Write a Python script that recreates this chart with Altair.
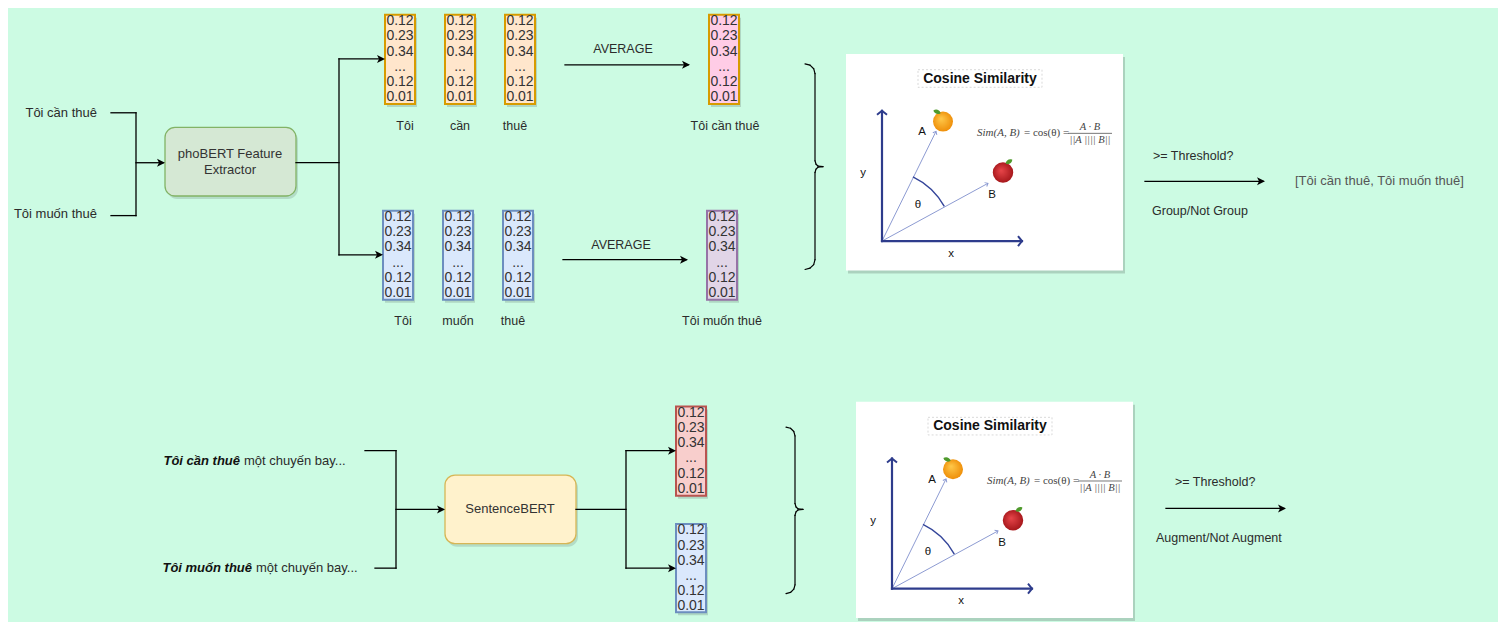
"""Sơ đồ pipeline: phoBERT (trung bình vector token) và SentenceBERT -> cosine similarity.

Vẽ toàn bộ như một chart Altair nhiều lớp trên hai trục ẩn tính theo pixel.
"""

import altair as alt
import pandas as pd

# ---- nội dung: chữ và số ----
VECTOR_VALUES = ["0.12", "0.23", "0.34", "...", "0.12", "0.01"]
SENTENCES = ["Tôi cần thuê", "Tôi muốn thuê"]
TOKENS_TOP = ["Tôi", "cần", "thuê"]
TOKENS_BOTTOM = ["Tôi", "muốn", "thuê"]
SENTENCE_TAIL = "một chuyến bay..."
MODEL_NAMES = [["phoBERT Feature", "Extractor"], ["SentenceBERT"]]
AVERAGE = "AVERAGE"
THRESHOLD = ">= Threshold?"
DECISIONS = ["Group/Not Group", "Augment/Not Augment"]
GROUP_RESULT = "[Tôi cần thuê, Tôi muốn thuê]"
PANEL_TITLE = "Cosine Similarity"
FORMULA_LEFT = "Sim(A, B)"
FORMULA_MID = "= cos(θ) ="
FORMULA_NUM = "A · B"
FORMULA_DEN = "||A |||| B||"

# ---- màu / font ----
BACKGROUND = "#ccfbe3"
FONT = "Liberation Sans"
SERIF = "Liberation Serif"
INK = "#2b2b2b"
AXIS_BLUE = "#2e3c8c"
VEC_BLUE = "#8d9bd2"

W, H = 1490, 614
# y nén nhẹ để các hộp sát mép trên (y=2) không bị lề trang 8px cắt mất
XS = alt.Scale(domain=[8, 8 + W], nice=False, zero=False)
YS = alt.Scale(domain=[-5, 622], nice=False, zero=False, reverse=True)

# ---- bố cục (pixel) ----
# hộp vector: x, x2, y, y2, fill, stroke
VECTOR_BOXES = [
    (385, 415, 2, 93, "#ffe6cc", "#d79b00"),
    (445, 475, 2, 93, "#ffe6cc", "#d79b00"),
    (505, 535, 2, 93, "#ffe6cc", "#d79b00"),
    (383, 413, 202, 293, "#dae8fc", "#6c8ebf"),
    (443, 473, 202, 293, "#dae8fc", "#6c8ebf"),
    (503, 533, 202, 293, "#dae8fc", "#6c8ebf"),
    (709, 739, 2, 93, "#ffcce6", "#d79b00"),
    (707, 737, 202, 293, "#e1d5e7", "#9673a6"),
    (676, 706, 402, 493, "#f8cecc", "#b85450"),
    (676, 706, 522, 612, "#dae8fc", "#6c8ebf"),
]
MODEL_BOXES = [
    (165, 296, 117, 187, "#d5e8d4", "#82b366"),
    (445, 576, 472, 542, "#fff2cc", "#d6b656"),
]
CONNECTORS = [
    [(111, 102), (136, 102), (136, 207), (111, 207)],
    [(136, 153), (163, 153)],
    [(296, 153), (339, 153)],
    [(382, 47), (339, 47), (339, 247), (380, 247)],
    [(565, 53), (688, 53)],
    [(563, 252), (686, 252)],
    [(1145, 172), (1263, 172)],
    [(365, 447), (396, 447), (396, 567), (375, 567)],
    [(396, 507), (443, 507)],
    [(576, 507), (626, 507)],
    [(673, 447), (626, 447), (626, 567), (673, 567)],
    [(1166, 506), (1284, 506)],
]
ARROW_TIPS = [(165, 153), (385, 47), (383, 247), (690, 53), (688, 252),
              (1265, 172), (445, 507), (676, 447), (676, 567), (1286, 506)]
# ngoặc nhọn: x trái, x giữa, x mũi, y trên, y giữa, y dưới
BRACES = [(805, 815, 823, 52, 157, 262), (786, 795, 803, 423, 507, 593)]

PANELS = [(846, 42), (856, 397)]
PANEL_W, PANEL_H = 277, 221
P_ORIGIN, P_YTOP, P_XEND = (36, 191), (36, 58), (176, 191)
P_A, P_B = (90, 79), (142, 132)

ARROW = "M0,0 L-2,-1 L-1.5,0 L-2,1 Z"
CHEVRON = "M-1,-1.25 L0,0 L-1,1.25"
LEAF = "M-1,0 C-0.5,-0.7 0.5,-0.7 1,0 C0.5,0.7 -0.5,0.7 -1,0 Z"


def pos(**extra):
    enc = dict(x=alt.X("x:Q", scale=XS, axis=None), y=alt.Y("y:Q", scale=YS, axis=None))
    enc.update(extra)
    return enc


def box_enc():
    return pos(x2="x2:Q", y2="y2:Q")


def texts(rows, **mark):
    df = pd.DataFrame(rows, columns=["x", "y", "text"])
    style = dict(font=FONT, fontSize=12.5, color=INK, baseline="middle")
    style.update(mark)
    return alt.Chart(df).mark_text(**style).encode(**pos(), text="text:N")


def segments(paths):
    rows = []
    for pts in paths:
        rows += [dict(x=a[0], y=a[1], x2=b[0], y2=b[1]) for a, b in zip(pts, pts[1:])]
    return pd.DataFrame(rows)


def brace_points(xl, xm, xt, yt, ym, yb):
    r = xm - xl
    return [
        (xl, yt), (xl + r * 0.5, yt + r * 0.13), (xl + r * 0.87, yt + r * 0.5), (xm, yt + r),
        (xm, ym - 6), (xm + 1, ym - 2.5), (xm + 3, ym - 0.6), (xt, ym),
        (xm + 3, ym + 0.6), (xm + 1, ym + 2.5), (xm, ym + 6),
        (xm, yb - r), (xl + r * 0.87, yb - r * 0.5), (xl + r * 0.5, yb - r * 0.13), (xl, yb),
    ]


def shift(p, o):
    return (p[0] + o[0], p[1] + o[1])


# ---- bảng dữ liệu ----
vec_df = pd.DataFrame(VECTOR_BOXES, columns=["x", "x2", "y", "y2", "fill", "stroke"])
model_df = pd.DataFrame(MODEL_BOXES, columns=["x", "x2", "y", "y2", "fill", "stroke"])
panel_df = pd.DataFrame([dict(x=px, x2=px + PANEL_W, y=py, y2=py + PANEL_H) for px, py in PANELS])

digit_rows = []
for x0, x1, y0, _, _, _ in VECTOR_BOXES:
    for i, v in enumerate(VECTOR_VALUES):
        digit_rows.append(((x0 + x1) / 2, y0 + 6.5 + i * 15.5, v))

label_rows = [
    (405, 115, TOKENS_TOP[0]), (460, 115, TOKENS_TOP[1]), (515, 115, TOKENS_TOP[2]),
    (403, 315, TOKENS_BOTTOM[0]), (458, 315, TOKENS_BOTTOM[1]), (513, 315, TOKENS_BOTTOM[2]),
    (725, 115, SENTENCES[0]), (722, 315, SENTENCES[1]),
    (623, 37, AVERAGE), (621, 237, AVERAGE),
]
left_rows = [
    (1153, 146, THRESHOLD), (1152, 202, DECISIONS[0]),
    (1175, 479, THRESHOLD), (1156, 536, DECISIONS[1]),
]
right_rows = [(97, 102, SENTENCES[0]), (97, 205, SENTENCES[1])]
bold_rows = [(240, 458, SENTENCES[0]), (252, 567, SENTENCES[1])]
tail_rows = [(240, 458, SENTENCE_TAIL), (252, 567, SENTENCE_TAIL)]
model_rows = [(230, 144, MODEL_NAMES[0][0]), (230, 160, MODEL_NAMES[0][1]),
              (510, 507, MODEL_NAMES[1][0])]

# phần tử bên trong hai khung cosine
axis_paths, vec_paths, chevrons, tips = [], [], [], []
title_rows, small_rows, f_left, f_mid, f_frac = [], [], [], [], []
title_box, frac_rule, arcs, oranges, apples, leaves = [], [], [], [], [], []
for o in PANELS:
    og = shift(P_ORIGIN, o)
    axis_paths += [[shift(P_YTOP, o), og, shift(P_XEND, o)]]
    vec_paths += [[og, shift(P_A, o)], [og, shift(P_B, o)]]
    chevrons += [(*shift(P_YTOP, o), 270), (*shift(P_XEND, o), 0)]
    tips += [(*shift(P_A, o), 296), (*shift(P_B, o), 331)]
    title_rows.append((*shift((134, 25), o), PANEL_TITLE))
    title_box.append(dict(x=o[0] + 72, x2=o[0] + 196, y=o[1] + 16, y2=o[1] + 34))
    small_rows += [(*shift((17, 122), o), "y"), (*shift((105, 204), o), "x"),
                   (*shift((76, 80), o), "A"), (*shift((146, 144), o), "B"),
                   (*shift((72, 154), o), "θ")]
    f_left.append((*shift((131, 81), o), FORMULA_LEFT))
    f_mid.append((*shift((175, 81), o), FORMULA_MID))
    f_frac += [(*shift((244, 75), o), FORMULA_NUM), (*shift((244, 88), o), FORMULA_DEN)]
    frac_rule.append(dict(x=o[0] + 222, x2=o[0] + 266, y=o[1] + 81, y2=o[1] + 81))
    arcs.append(dict(x=og[0], y=og[1]))
    oranges.append(dict(zip("xy", shift((97, 69), o))))
    apples.append(dict(zip("xy", shift((157, 121), o))))
    leaves += [dict(x=o[0] + 91, y=o[1] + 59, angle=20), dict(x=o[0] + 163, y=o[1] + 110, angle=330)]

pt = lambda rows, cols=("x", "y", "angle"): pd.DataFrame(rows, columns=list(cols))

# ---- các lớp ----
shadow = dict(color="#000", xOffset=2, x2Offset=2, yOffset=3, y2Offset=3)
layers = [
    alt.Chart(panel_df).mark_rect(opacity=0.16, **shadow).encode(**box_enc()),
    alt.Chart(model_df).mark_rect(opacity=0.12, cornerRadius=10, **shadow).encode(**box_enc()),
    alt.Chart(vec_df).mark_rect(opacity=0.14, **shadow).encode(**box_enc()),
    alt.Chart(panel_df).mark_rect(color="white").encode(**box_enc()),
    alt.Chart(pd.DataFrame(title_box)).mark_rect(fillOpacity=0, stroke="#cfcfcf", strokeWidth=0.8,
                                                 strokeDash=[2, 2]).encode(**box_enc()),
    alt.Chart(model_df).mark_rect(cornerRadius=10, strokeWidth=1.3).encode(
        **box_enc(), fill=alt.Fill("fill:N", scale=None), stroke=alt.Stroke("stroke:N", scale=None)),
    alt.Chart(vec_df).mark_rect(strokeWidth=2).encode(
        **box_enc(), fill=alt.Fill("fill:N", scale=None), stroke=alt.Stroke("stroke:N", scale=None)),
    texts(digit_rows, fontSize=14, color="#333"),
    texts(label_rows),
    texts(left_rows, align="left"),
    texts(right_rows, align="right", fontSize=13),
    texts(bold_rows, align="right", fontSize=13, fontWeight="bold", fontStyle="italic", color="#111"),
    texts(tail_rows, align="left", fontSize=13, dx=4),
    texts(model_rows, fontSize=13, color="#333"),
    texts([(1295, 172, GROUP_RESULT)], align="left", fontSize=13, color="#555"),
    # kết nối + mũi tên
    alt.Chart(segments(CONNECTORS)).mark_rule(color="black", strokeWidth=1.3, strokeCap="square").encode(**box_enc()),
    alt.Chart(pt(ARROW_TIPS, ("x", "y"))).mark_point(shape=ARROW, filled=True, size=64, color="black",
                                                      opacity=1).encode(**pos()),
    alt.Chart(segments([brace_points(*b) for b in BRACES])).mark_rule(
        color="black", strokeWidth=1.2, strokeCap="round").encode(**box_enc()),
    # khung cosine similarity
    alt.Chart(segments(vec_paths)).mark_rule(color=VEC_BLUE, strokeWidth=1).encode(**box_enc()),
    alt.Chart(pt(tips)).mark_point(shape="M-1.2,-1 L0,0 L-1.2,1", filled=False, size=20, color=VEC_BLUE,
                                   strokeWidth=1, opacity=1).encode(**pos(), angle=alt.Angle("angle:Q", scale=None)),
    alt.Chart(segments(axis_paths)).mark_rule(color=AXIS_BLUE, strokeWidth=2.2, strokeCap="square").encode(**box_enc()),
    alt.Chart(pt(chevrons)).mark_point(shape=CHEVRON, filled=False, size=64, color=AXIS_BLUE, strokeWidth=2,
                                       opacity=1).encode(**pos(), angle=alt.Angle("angle:Q", scale=None)),
    alt.Chart(pd.DataFrame(arcs)).mark_arc(radius=72, radius2=70.6, theta=0.449, theta2=1.063,
                                           color="#34459a").encode(**pos()),
    alt.Chart(pd.DataFrame(oranges)).mark_circle(size=400, opacity=1, fill={
        "gradient": "radial", "x1": 0.4, "y1": 0.35, "r1": 0, "x2": 0.5, "y2": 0.5, "r2": 0.6,
        "stops": [{"offset": 0, "color": "#ffc94a"}, {"offset": 1, "color": "#ec8600"}]}).encode(**pos()),
    alt.Chart(pd.DataFrame(apples)).mark_circle(size=420, opacity=1, fill={
        "gradient": "radial", "x1": 0.4, "y1": 0.4, "r1": 0, "x2": 0.5, "y2": 0.5, "r2": 0.6,
        "stops": [{"offset": 0, "color": "#e8464a"}, {"offset": 1, "color": "#9c1014"}]}).encode(**pos()),
    alt.Chart(pd.DataFrame(leaves)).mark_point(shape=LEAF, filled=True, size=60, color="#4f9a2c",
                                               opacity=1).encode(**pos(), angle=alt.Angle("angle:Q", scale=None)),
    texts(title_rows, fontSize=14, fontWeight="bold", color="#111"),
    texts(small_rows, fontSize=11.5, color="#111"),
    texts(f_left, align="left", font=SERIF, fontSize=11, fontStyle="italic", color="#444"),
    texts(f_mid, align="left", font=SERIF, fontSize=11, color="#444", dx=3),
    texts(f_frac, font=SERIF, fontSize=10.5, fontStyle="italic", color="#444"),
    alt.Chart(pd.DataFrame(frac_rule)).mark_rule(color="#555", strokeWidth=0.8).encode(**box_enc()),
]

chart = (
    alt.layer(*layers)
    .properties(width=W, height=H, padding=0, autosize=alt.AutoSizeParams(type="none"),
                background=BACKGROUND)
    .configure_view(stroke=None)
)

chart.save("out.html", embed_options={"renderer": "svg", "actions": False})
